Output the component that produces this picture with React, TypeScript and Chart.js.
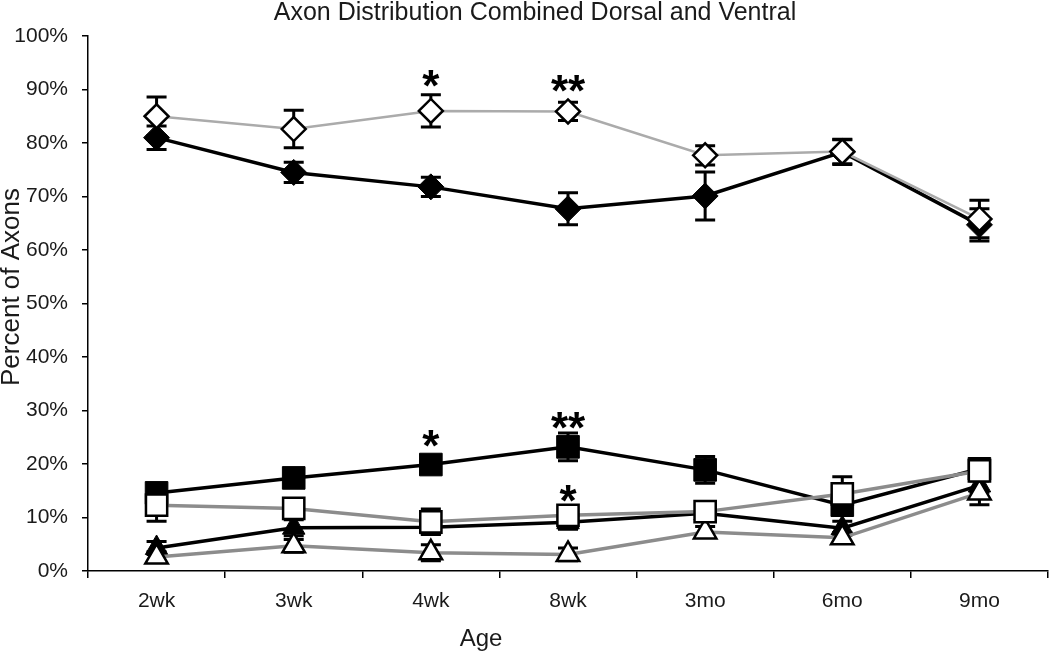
import { useEffect, useRef } from 'react';
import { Chart, registerables } from 'chart.js';

Chart.register(...registerables);

const FONT = '"Liberation Sans", Arial, Helvetica, sans-serif';
const TEXT = '#1a1a1a';

const chartTitle = 'Axon Distribution Combined Dorsal and Ventral';
const xTitle = 'Age';
const yTitle = 'Percent of Axons';

const ages = ['2wk', '3wk', '4wk', '8wk', '3mo', '6mo', '9mo'];

const openDiamond = [85.0, 82.6, 86.0, 85.9, 77.7, 78.4, 65.8];
const openDiamondErr = [3.6, 3.5, 3.0, 1.7, 1.8, 2.3, 3.5];
const filledDiamond = [81.0, 74.5, 71.8, 67.7, 70.1, 78.3, 64.7];
const filledDiamondErr = [2.2, 1.9, 1.8, 3.0, 4.5, 2.3, 3.0];

const filledSquare = [14.6, 17.4, 19.9, 23.2, 18.9, 12.3, 19.1];
const filledSquareErr = [1.3, 1.3, 1.3, 2.6, 2.5, 1.3, 1.2];
const openSquare = [12.3, 11.7, 9.2, 10.4, 11.1, 14.4, 18.7];
const openSquareErr = [3.0, 1.8, 2.4, 1.8, 1.4, 3.2, 1.4];

const filledTriangle = [4.3, 8.1, 8.2, 9.1, 10.8, 8.0, 16.0];
const filledTriangleErr = [1.2, 1.5, 1.3, 1.3, 1.2, 1.3, 1.3];
const openTriangle = [2.6, 4.7, 3.4, 3.1, 7.3, 6.2, 14.6];
const openTriangleErr = [1.0, 1.2, 1.5, 1.2, 1.0, 1.0, 2.2];

const yTicks = [0, 10, 20, 30, 40, 50, 60, 70, 80, 90, 100];

const starTexts = ['*', '**', '*', '**', '*'];
const starAges = ['4wk', '8wk', '4wk', '8wk', '8wk'];
const starValues = [92.6, 91.6, 25.3, 28.6, 15.0];

const errorSets = [
  openDiamondErr,
  openSquareErr,
  openTriangleErr,
  filledDiamondErr,
  filledSquareErr,
  filledTriangleErr,
];

const errorBarPlugin = {
  id: 'errorBars',
  beforeDatasetsDraw(chart: any) {
    const ctx = chart.ctx;
    const xs = chart.scales.x;
    const ys = chart.scales.y;
    ctx.save();
    ctx.strokeStyle = '#000';
    ctx.lineWidth = 3;
    chart.data.datasets.forEach((ds: any, di: number) => {
      const errs = errorSets[di];
      ds.data.forEach((v: number, i: number) => {
        const px = xs.getPixelForValue(i);
        const top = ys.getPixelForValue(v + errs[i]);
        const bot = ys.getPixelForValue(v - errs[i]);
        ctx.beginPath();
        ctx.moveTo(px, top);
        ctx.lineTo(px, bot);
        ctx.moveTo(px - 10, top);
        ctx.lineTo(px + 10, top);
        ctx.moveTo(px - 10, bot);
        ctx.lineTo(px + 10, bot);
        ctx.stroke();
      });
    });
    ctx.restore();
  },
};

const textPlugin = {
  id: 'texts',
  afterDraw(chart: any) {
    const ctx = chart.ctx;
    const xs = chart.scales.x;
    const ys = chart.scales.y;
    ctx.save();
    ctx.fillStyle = TEXT;
    ctx.textAlign = 'center';
    ctx.textBaseline = 'middle';
    ctx.font = `25px ${FONT}`;
    ctx.fillText(chartTitle, 535, 13);
    ctx.font = `24px ${FONT}`;
    ctx.fillText(xTitle, 481, 639);
    ctx.save();
    ctx.translate(12, 287);
    ctx.rotate(-Math.PI / 2);
    ctx.font = `26px ${FONT}`;
    ctx.fillText(yTitle, 0, 0);
    ctx.restore();
    ctx.fillStyle = '#000';
    ctx.font = `bold 44px ${FONT}`;
    ctx.textBaseline = 'alphabetic';
    starTexts.forEach((t, i) => {
      const px = xs.getPixelForValue(ages.indexOf(starAges[i]));
      const py = ys.getPixelForValue(starValues[i]);
      ctx.fillText(t, px, py + 25);
    });
    ctx.restore();
  },
};

export default function App() {
  const ref = useRef<HTMLCanvasElement | null>(null);

  useEffect(() => {
    if (!ref.current) return;
    const gray = '#8c8c8c';
    const light = '#ababab';
    const chart = new Chart(ref.current, {
      type: 'line',
      data: {
        labels: ages,
        datasets: [
          {
            data: openDiamond,
            borderColor: light,
            borderWidth: 2.5,
            pointStyle: 'rectRot',
            pointRadius: 12,
            pointBackgroundColor: '#fff',
            pointBorderColor: '#000',
            pointBorderWidth: 2.5,
          },
          {
            data: openSquare,
            borderColor: gray,
            borderWidth: 3.5,
            pointStyle: 'rect',
            pointRadius: 15,
            pointBackgroundColor: '#fff',
            pointBorderColor: '#000',
            pointBorderWidth: 2.5,
          },
          {
            data: openTriangle,
            borderColor: gray,
            borderWidth: 3.5,
            pointStyle: 'triangle',
            pointRadius: 13,
            pointBackgroundColor: '#fff',
            pointBorderColor: '#000',
            pointBorderWidth: 2.5,
          },
          {
            data: filledDiamond,
            borderColor: '#000',
            borderWidth: 3.5,
            pointStyle: 'rectRot',
            pointRadius: 13,
            pointBackgroundColor: '#000',
            pointBorderColor: '#000',
            pointBorderWidth: 1,
          },
          {
            data: filledSquare,
            borderColor: '#000',
            borderWidth: 3.5,
            pointStyle: 'rect',
            pointRadius: 16,
            pointBackgroundColor: '#000',
            pointBorderColor: '#000',
            pointBorderWidth: 1,
          },
          {
            data: filledTriangle,
            borderColor: '#000',
            borderWidth: 3.5,
            pointStyle: 'triangle',
            pointRadius: 13,
            pointBackgroundColor: '#000',
            pointBorderColor: '#000',
            pointBorderWidth: 1,
          },
        ],
      },
      options: {
        responsive: false,
        animation: false,
        clip: false as any,
        layout: { autoPadding: false, padding: { top: 36, right: 2, left: 0, bottom: 0 } },
        plugins: {
          legend: { display: false },
          tooltip: { enabled: false },
          title: { display: false },
        },
        scales: {
          x: {
            type: 'category',
            offset: true,
            grid: {
              offset: true,
              drawOnChartArea: false,
              drawTicks: true,
              tickLength: 7,
              color: '#000',
              lineWidth: 1.5,
            },
            border: { display: true, color: '#000', width: 1.5 },
            ticks: {
              color: TEXT,
              font: { family: FONT, size: 21 },
              padding: 11,
              maxRotation: 0,
            },
            afterFit: (s: any) => {
              s.height = 83;
              s.paddingLeft = 0;
              s.paddingRight = 0;
            },
          },
          y: {
            min: 0,
            max: 100,
            afterBuildTicks: (s: any) => {
              s.ticks = yTicks.map((v) => ({ value: v }));
            },
            grid: {
              drawOnChartArea: false,
              drawTicks: true,
              tickLength: 6,
              color: '#000',
              lineWidth: 1.5,
            },
            border: { display: true, color: '#000', width: 1.5 },
            ticks: {
              color: TEXT,
              font: { family: FONT, size: 21 },
              padding: 14,
              callback: (v: any) => `${v}%`,
            },
            afterFit: (s: any) => {
              s.width = 88;
            },
          },
        },
      },
      plugins: [errorBarPlugin, textPlugin],
    });
    return () => chart.destroy();
  }, []);

  return (
    <div style={{ position: 'fixed', left: 0, top: 0, width: 1050, height: 654, background: '#fff' }}>
      <canvas ref={ref} width={1050} height={654} style={{ display: 'block' }} />
    </div>
  );
}
